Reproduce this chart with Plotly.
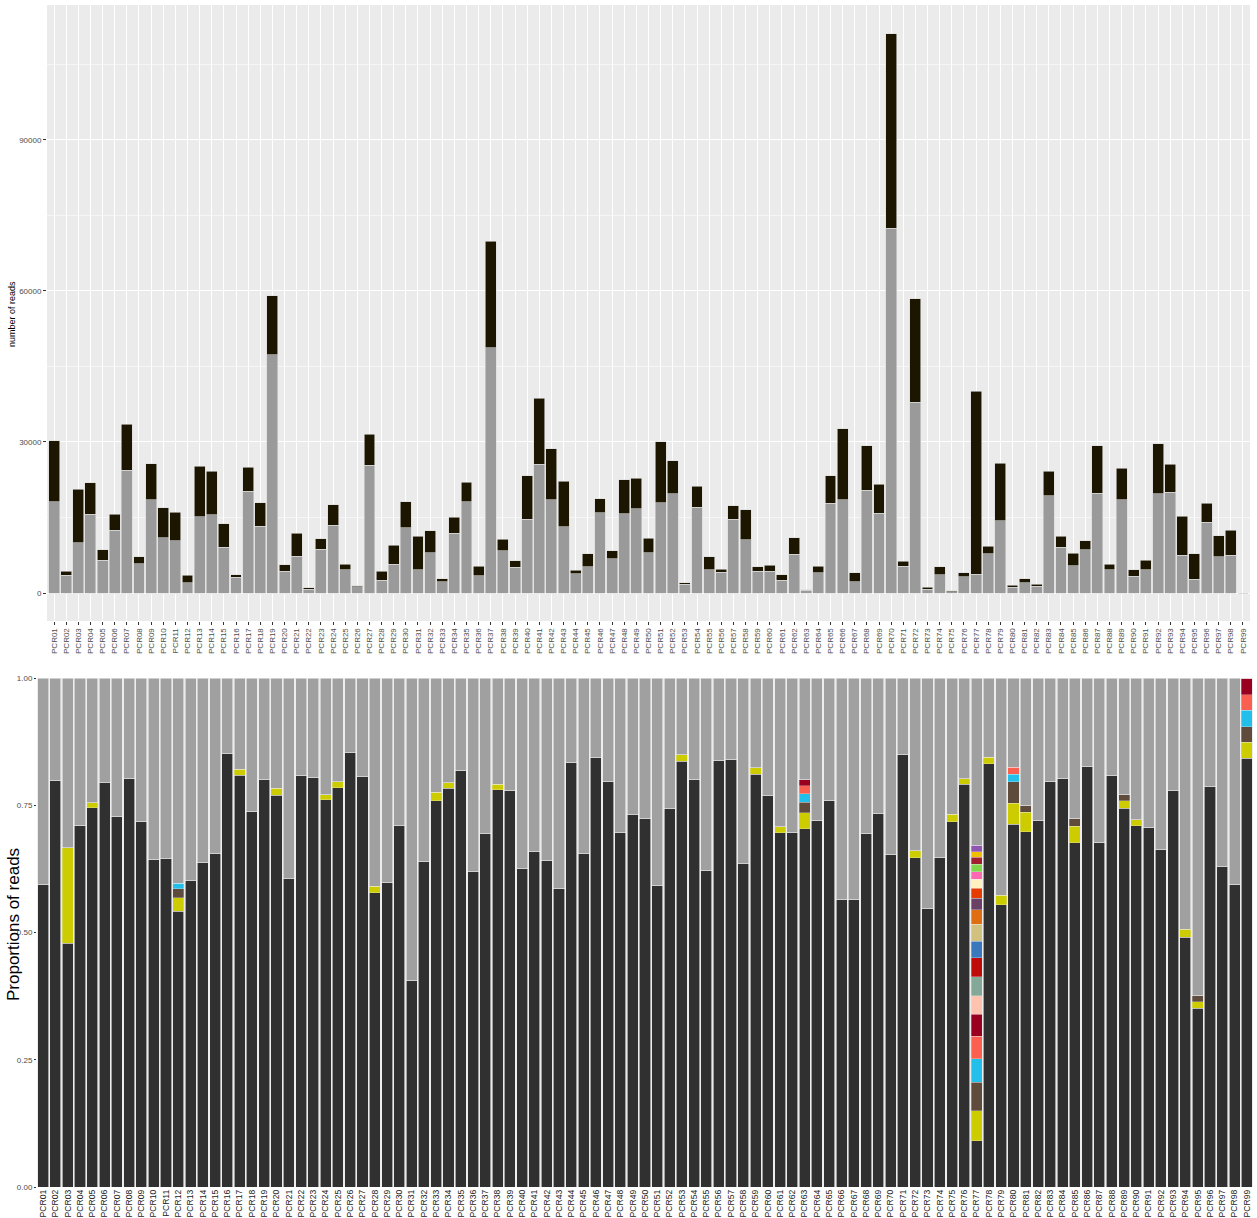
import plotly.graph_objects as go

# ---------------- data ----------------
samples = ["PCR%02d" % i for i in range(1, 100)]

reads_total = [30250, 4330, 20580, 21900, 8580, 15670, 33500, 7250, 25670, 16920,
               16000, 3500, 25170, 24170, 13750, 3670, 25000, 17920, 59000, 5580,
               11920, 1000, 10750, 17580, 5750, 1420, 31500, 4330, 9500, 18080,
               11250, 12330, 2830, 15080, 22000, 5330, 69900, 10670, 6420, 23330,
               38670, 28670, 22170, 4500, 7750, 18750, 8420, 22500, 22750, 10920,
               30000, 26250, 2000, 21170, 7250, 4750, 17330, 16580, 5170, 5500,
               3670, 11000, 670, 5330, 23330, 32670, 4000, 29250, 21580, 111100,
               6330, 58500, 1170, 5250, 420, 4000, 40100, 9250, 25750, 1580,
               2830, 1750, 24170, 11250, 7920, 10420, 29250, 5750, 24750, 4580,
               6500, 29670, 25580, 15250, 7750, 17830, 11420, 12500, 0]

reads_grey = [18080, 3500, 10000, 15670, 6500, 12500, 24420, 5830, 18500, 11000,
              10420, 2000, 15170, 15500, 9080, 3170, 20250, 13250, 47330, 4330,
              7330, 750, 8670, 13420, 4580, 1250, 25420, 2580, 5750, 12920,
              4580, 8000, 2250, 11920, 18080, 3420, 48670, 8420, 5080, 14670,
              25580, 18500, 13170, 3830, 5250, 15920, 6830, 15750, 16750, 8000,
              17920, 19670, 1750, 17000, 4580, 4170, 14670, 10580, 4330, 4330,
              2580, 7670, 500, 4000, 17830, 18500, 2250, 20420, 15830, 72500,
              5330, 37920, 750, 3580, 250, 3250, 3750, 7750, 14330, 1170,
              2000, 1330, 19330, 9080, 5420, 8580, 19830, 4670, 18500, 3330,
              4670, 19750, 20000, 7500, 2750, 14080, 7250, 7500, 0]

prop_main = [0.595, 0.798, 0.479, 0.711, 0.745, 0.794, 0.728, 0.803, 0.719, 0.644,
             0.645, 0.542, 0.602, 0.638, 0.656, 0.851, 0.809, 0.738, 0.800, 0.770,
             0.606, 0.809, 0.804, 0.761, 0.784, 0.853, 0.807, 0.578, 0.599, 0.710,
             0.406, 0.640, 0.759, 0.783, 0.819, 0.619, 0.695, 0.780, 0.779, 0.625,
             0.660, 0.641, 0.587, 0.834, 0.656, 0.844, 0.796, 0.697, 0.731, 0.724,
             0.593, 0.743, 0.836, 0.801, 0.621, 0.837, 0.840, 0.635, 0.811, 0.769,
             0.696, 0.697, 0.704, 0.721, 0.760, 0.565, 0.565, 0.695, 0.733, 0.654,
             0.849, 0.647, 0.548, 0.647, 0.718, 0.791, 0.091, 0.832, 0.555, 0.713,
             0.698, 0.720, 0.796, 0.803, 0.676, 0.827, 0.677, 0.809, 0.744, 0.710,
             0.707, 0.663, 0.779, 0.491, 0.351, 0.786, 0.629, 0.595, 0.842]

# minor taxa: {sample: proportion}
prop_yellow = {"PCR03": 0.188, "PCR05": 0.010, "PCR12": 0.026, "PCR17": 0.012, "PCR20": 0.013,
               "PCR24": 0.010, "PCR25": 0.012, "PCR28": 0.013, "PCR33": 0.017, "PCR34": 0.011,
               "PCR38": 0.011, "PCR53": 0.013, "PCR59": 0.013, "PCR61": 0.012, "PCR63": 0.031,
               "PCR72": 0.014, "PCR75": 0.014, "PCR76": 0.011, "PCR77": 0.059, "PCR78": 0.012,
               "PCR79": 0.018, "PCR80": 0.041, "PCR81": 0.038, "PCR85": 0.033, "PCR89": 0.015,
               "PCR90": 0.012, "PCR94": 0.015, "PCR95": 0.013, "PCR99": 0.032}
prop_brown = {"PCR12": 0.018, "PCR63": 0.021, "PCR77": 0.056, "PCR80": 0.042, "PCR81": 0.013,
              "PCR85": 0.014, "PCR89": 0.012, "PCR95": 0.012, "PCR99": 0.030}
prop_cyan = {"PCR12": 0.011, "PCR63": 0.017, "PCR77": 0.046, "PCR80": 0.015, "PCR99": 0.033}
prop_salmon = {"PCR63": 0.015, "PCR77": 0.044, "PCR80": 0.014, "PCR99": 0.030}
prop_darkred = {"PCR63": 0.012, "PCR77": 0.043, "PCR99": 0.033}
prop_peach = {"PCR77": 0.037}
prop_greygreen = {"PCR77": 0.037}
prop_red = {"PCR77": 0.037}
prop_blue = {"PCR77": 0.033}
prop_tan = {"PCR77": 0.033}
prop_orange = {"PCR77": 0.029}
prop_darkpurple = {"PCR77": 0.022}
prop_orangered = {"PCR77": 0.020}
prop_cream = {"PCR77": 0.018}
prop_pink = {"PCR77": 0.014}
prop_green = {"PCR77": 0.015}
prop_maroon = {"PCR77": 0.014}
prop_gold = {"PCR77": 0.011}
prop_purple = {"PCR77": 0.012}

minor_series = [
    (prop_yellow, "#CCCC00"), (prop_brown, "#5E4B3C"), (prop_cyan, "#22BFEA"),
    (prop_salmon, "#FA5F50"), (prop_darkred, "#990020"), (prop_peach, "#FDC3AE"),
    (prop_greygreen, "#84A898"), (prop_red, "#BF0A0A"), (prop_blue, "#3A78BD"),
    (prop_tan, "#D1C07E"), (prop_orange, "#E06D10"), (prop_darkpurple, "#6A4165"),
    (prop_orangered, "#E63C00"), (prop_cream, "#FFF1C0"), (prop_pink, "#FF69B4"),
    (prop_green, "#7FD64A"), (prop_maroon, "#A02030"), (prop_gold, "#F0C000"),
    (prop_purple, "#9055B0"),
]

# ---------------- figure ----------------
W, H = 1257, 1218
FONT = "Liberation Sans, Arial, Helvetica, sans-serif"

def px_x(a, b):
    return [a / W, b / W]

def px_y(top, bottom):
    return [1 - bottom / H, 1 - top / H]

fig = go.Figure()

reads_black = [t - g for t, g in zip(reads_total, reads_grey)]
fig.add_trace(go.Bar(x=samples, y=reads_grey, marker=dict(color="#9A9A9A", line=dict(color="#DADADA", width=0.6)),
                     width=0.9, xaxis="x", yaxis="y", showlegend=False))
fig.add_trace(go.Bar(x=samples, y=reads_black, marker=dict(color="#1C1500", line=dict(color="#DADADA", width=0.6)),
                     width=0.9, xaxis="x", yaxis="y", showlegend=False))

# bottom panel
fig.add_trace(go.Bar(x=samples, y=prop_main, marker=dict(color="#303030", line=dict(color="#EFEFEF", width=0.6)),
                     width=0.9, xaxis="x2", yaxis="y2", showlegend=False))
cum = list(prop_main)
for d, col in minor_series:
    vals = [d.get(s) for s in samples]
    fig.add_trace(go.Bar(x=samples, y=vals, marker=dict(color=col, line=dict(color="#EFEFEF", width=0.3)),
                         width=0.9, xaxis="x2", yaxis="y2", showlegend=False))
    cum = [c + (v or 0) for c, v in zip(cum, vals)]
rest = [max(0.0, 1 - c) for c in cum]
fig.add_trace(go.Bar(x=samples, y=rest, marker=dict(color="#A0A0A0", line=dict(color="#EFEFEF", width=0.6)),
                     width=0.9, xaxis="x2", yaxis="y2", showlegend=False))

fig.update_layout(
    width=W, height=H,
    margin=dict(l=0, r=0, t=0, b=0),
    paper_bgcolor="white",
    plot_bgcolor="#EBEBEB",
    barmode="stack",
    bargap=0.1,
    font=dict(family=FONT, color="#4D4D4D"),
    xaxis=dict(domain=px_x(47, 1250), anchor="y", type="category", categoryorder="array",
               categoryarray=samples, range=[-0.58, 98.58], automargin=False,
               tickmode="array", tickvals=samples, ticktext=samples,
               tickangle=-90, tickfont=dict(size=8, color="#4D4D4D"),
               ticks="outside", ticklen=3, tickcolor="#333333", tickwidth=0.8,
               showgrid=True, gridcolor="white", gridwidth=1.1, zeroline=False, showline=False),
    yaxis=dict(domain=px_y(5, 621), anchor="x", range=[-5560, 116800], automargin=False,
               tickvals=[0, 30000, 60000, 90000], ticktext=["0", "30000", "60000", "90000"],
               tickfont=dict(size=8, color="#4D4D4D"),
               ticks="outside", ticklen=3, tickcolor="#333333", tickwidth=0.8,
               showgrid=True, gridcolor="white", gridwidth=1.1, zeroline=False, showline=False,
               minor=dict(tickvals=[15000, 45000, 75000, 105000], showgrid=True,
                          gridcolor="#F6F6F6", gridwidth=0.6, ticks="")),
    xaxis2=dict(domain=px_x(37, 1253), anchor="y2", type="category", categoryorder="array",
                categoryarray=samples, range=[-0.5, 98.5], automargin=False,
                tickmode="array", tickvals=samples, ticktext=samples,
                tickangle=-90, tickfont=dict(size=8.6, color="#222222"),
                ticks="", ticklen=0, showgrid=False, zeroline=False, showline=False),
    yaxis2=dict(domain=px_y(678, 1187), anchor="x2", range=[0, 1], automargin=False,
                tickvals=[0, 0.25, 0.5, 0.75, 1.0], ticktext=["0.00", "0.25", "0.50", "0.75", "1.00"],
                tickfont=dict(size=8, color="#4D4D4D"),
                ticks="outside", ticklen=2, tickcolor="#333333", tickwidth=0.8,
                showgrid=False, zeroline=False, showline=False),
    annotations=[
        dict(text="number of reads", x=12 / W, y=1 - 314 / H, xref="paper", yref="paper",
             xanchor="center", yanchor="middle",
             textangle=-90, showarrow=False, font=dict(size=9, color="black")),
        dict(text="Proportions of reads", x=13 / W, y=1 - 925 / H, xref="paper", yref="paper",
             xanchor="center", yanchor="middle",
             textangle=-90, showarrow=False, font=dict(size=17, color="black")),
    ],
)

fig.write_html("out.html")
